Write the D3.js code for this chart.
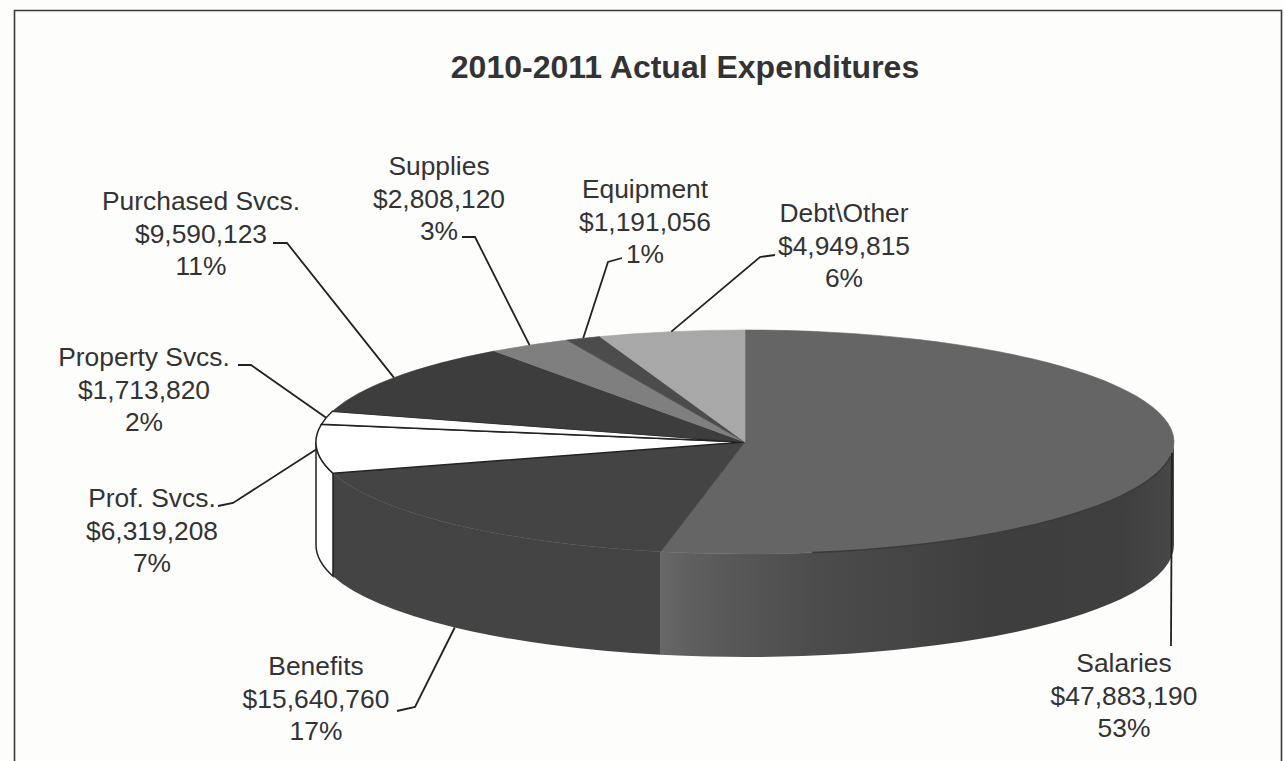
<!DOCTYPE html>
<html>
<head>
<meta charset="utf-8">
<title>2010-2011 Actual Expenditures</title>
<script src="https://cdn.jsdelivr.net/npm/d3@7"></script>
<style>
  html, body { margin: 0; padding: 0; background: #fdfdfc; }
  svg { display: block; }
  text { font-family: "Liberation Sans", Arial, sans-serif; fill: #333; }
</style>
</head>
<body>
<svg id="chart" width="1284" height="761"></svg>
<script>
// Daten
const categories = ['Salaries', 'Benefits', 'Prof. Svcs.', 'Property Svcs.', 'Purchased Svcs.', 'Supplies', 'Equipment', 'Debt\\Other'];
const amounts = [47883190, 15640760, 6319208, 1713820, 9590123, 2808120, 1191056, 4949815];
const percentLabels = ['53%', '17%', '7%', '2%', '11%', '3%', '1%', '6%'];
const titleText = '2010-2011 Actual Expenditures';

// Aussehen je Segment
const topColors = ['#656565', '#444444', '#ffffff', '#ffffff', '#3d3d3d', '#7f7f7f', '#4c4c4c', '#a8a8a8'];
const sideColors = ['#4a4a4a', '#444444', '#ffffff', '#ffffff', '#333333', '#666666', '#3a3a3a', '#8a8a8a'];

// Label-Layout: x-Mitte und Grundlinie der ersten Zeile, Knick und Ende der Führungslinie
const labelAnchors = [[1124, 672], [316, 675], [152, 507], [144, 366], [201, 210], [439, 175], [645, 198], [844, 222]];
const leaderElbows = [[1171, 646], [415, 707], [233, 503], [251, 365], [287, 243], [475, 237], [608, 262], [760, 257]];
const leaderEnds = [[1171, 646], [397, 711], [218, 506], [238, 365], [273, 243], [462, 237], [622, 258], [775, 255]];
// Segmente mit Führungslinie an der Unterkante der Seitenwand
const leaderOnBottom = [false, true, false, false, false, false, false, false];

const svg = d3.select('#chart');
const cx = 745, cy = 442, rx = 429, ry = 112, depth = 103;

const slices = d3.pie().sort(null)(amounts);
const mid = d => (d.startAngle + d.endAngle) / 2;
const project = (a, dz = 0) => [cx + rx * Math.sin(a), cy - ry * Math.cos(a) + dz];

// Rahmen
svg.append('path')
  .attr('d', 'M14.5,761V10.5H1281.5V761')
  .attr('fill', 'none').attr('stroke', '#3a3a3a').attr('stroke-width', 1.6);

// Verlauf für die Seitenwand von Salaries (läuft von rechts nach links)
const defs = svg.append('defs');
const grad = defs.append('linearGradient').attr('id', 'salariesSide');
[['0%', '#686868'], ['6%', '#5e5e5e'], ['30%', '#4c4c4c'], ['65%', '#3e3e3e'], ['90%', '#3f3f3f'], ['100%', '#484848']].forEach(s =>
  grad.append('stop').attr('offset', s[0]).attr('stop-color', s[1]));

// --- Seitenwände (nur vordere Hälfte) ---
const sideGroup = svg.append('g').attr('class', 'sides');
slices.forEach((d, i) => {
  const a0 = Math.max(d.startAngle, Math.PI / 2);
  const a1 = Math.min(d.endAngle, Math.PI * 1.5);
  if (a1 <= a0) return;
  const p0 = project(a0), p1 = project(a1);
  const path = `M${p0}A${rx},${ry} 0 0 1 ${p1}L${p1[0]},${p1[1] + depth}A${rx},${ry} 0 0 0 ${p0[0]},${p0[1] + depth}Z`;
  sideGroup.append('path')
    .attr('d', path)
    .attr('fill', i === 0 ? 'url(#salariesSide)' : sideColors[i])
    .attr('stroke', topColors[i] === '#ffffff' ? '#222' : 'none')
    .attr('stroke-width', 1.5);
});

// --- Deckfläche ---
const arc = d3.arc().innerRadius(0).outerRadius(rx);
svg.append('g')
  .attr('transform', `translate(${cx},${cy}) scale(1,${ry / rx})`)
  .selectAll('path')
  .data(slices)
  .join('path')
    .attr('d', arc)
    .attr('fill', (d, i) => topColors[i])
    .attr('stroke', (d, i) => topColors[i] === '#ffffff' ? '#222' : topColors[i])
    .attr('stroke-width', (d, i) => topColors[i] === '#ffffff' ? 1.5 : 0.6)
    .style('vector-effect', 'non-scaling-stroke');

// Dunkle Kante zwischen Deckfläche und Seitenwand von Salaries
const seam0 = project(Math.PI * 0.54), seam1 = project(Math.PI * 0.95);
svg.append('path')
  .attr('d', `M${seam0}A${rx},${ry} 0 0 1 ${seam1}`)
  .attr('fill', 'none').attr('stroke', '#3a3a3a').attr('stroke-width', 1.6);

// --- Führungslinien ---
const line = d3.line();
svg.append('g')
  .selectAll('path')
  .data(slices)
  .join('path')
    .attr('d', (d, i) => line([
      project(mid(d), leaderOnBottom[i] ? depth : 0),
      leaderElbows[i],
      leaderEnds[i]
    ]))
    .attr('fill', 'none')
    .attr('stroke', '#222')
    .attr('stroke-width', 1.8);

// --- Beschriftung ---
const dollars = d3.format('$,');
const labels = svg.append('g')
  .selectAll('text')
  .data(slices)
  .join('text')
    .attr('text-anchor', 'middle')
    .attr('font-size', 26.4);
labels.each(function (d, i) {
  const rows = [categories[i], dollars(amounts[i]), percentLabels[i]];
  d3.select(this).selectAll('tspan')
    .data(rows)
    .join('tspan')
      .attr('x', labelAnchors[i][0])
      .attr('y', (r, k) => labelAnchors[i][1] + k * 32.5)
      .text(r => r);
});

// Titel
svg.append('text')
  .attr('x', 685).attr('y', 78)
  .attr('text-anchor', 'middle')
  .attr('font-size', 32)
  .attr('font-weight', 'bold')
  .text(titleText);
</script>
</body>
</html>
